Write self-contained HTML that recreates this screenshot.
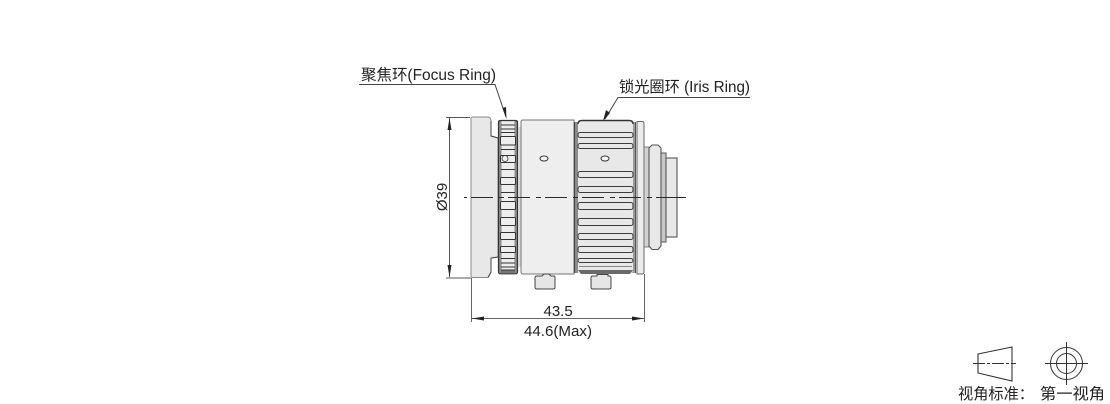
<!DOCTYPE html>
<html><head><meta charset="utf-8"><style>
html,body{margin:0;padding:0;background:#fff;width:1110px;height:404px;overflow:hidden}
svg{display:block}
text{font-family:"Liberation Sans","Noto Sans CJK SC",sans-serif;fill:#222}
</style></head><body>
<svg width="1110" height="404" viewBox="0 0 1110 404" xmlns="http://www.w3.org/2000/svg">
<!-- front flange -->
<path d="M473 117H487Q491 117 491 121V136L498 138V257L491 258V272L488 277.500H473Q471 277.500 471 275V119Q471 117 473 117Z" fill="#e8e8e8" stroke="#8a8a8a" stroke-width="1"/>
<path d="M491 121V136L498 138M498 257L491 258V272L488 277.500" fill="none" stroke="#444" stroke-width="1"/>
<!-- focus ring -->
<rect x="498" y="120" width="20" height="154" rx="2" fill="#ededed"/>
<rect x="498" y="121" width="3.500" height="152" fill="#8c8c8c"/>
<rect x="514.500" y="121" width="3.500" height="152" fill="#8c8c8c"/>
<g stroke="#333" stroke-width="1" fill="#ededed">
<rect x="500.500" y="136.500" width="15" height="8.500" rx="1"/>
<rect x="500.500" y="155.500" width="15" height="7" rx="1"/>
<rect x="500.500" y="177.500" width="15" height="7" rx="1"/>
<rect x="500.500" y="201.500" width="15" height="8" rx="1"/>
<rect x="500.500" y="217.500" width="15" height="8" rx="1"/>
<rect x="500.500" y="232.500" width="15" height="7" rx="1"/>
<rect x="500.500" y="246.500" width="15" height="6" rx="1"/>
<path d="M501 125H515M501 129H515M501 132.500H515M501 149.500H515M501 169.500H515M501 192.500H515M501 258.500H515M501 263H515M501 267H515M501 270H515" fill="none"/>
</g>
<path d="M498.500 122Q498.500 120.500 501 120.500H515Q517.500 120.500 517.500 122V272Q517.500 273.800 515 273.800H501Q498.500 273.800 498.500 272Z" fill="none" stroke="#333" stroke-width="1.200"/>
<rect x="501" y="270.500" width="14" height="3" fill="#777"/>
<circle cx="505" cy="158.500" r="3" fill="#f0f0f0" stroke="#333" stroke-width="0.800"/>
<rect x="518" y="127" width="2.500" height="140" fill="#d8d8d8"/>
<!-- body -->
<path d="M523 120H574V274H523Q521 274 521 272V122Q521 120 523 120Z" fill="#eeeeee" stroke="#777" stroke-width="1"/>
<ellipse cx="544" cy="158.500" rx="4" ry="2.500" fill="#f5f5f5" stroke="#333" stroke-width="1"/>
<!-- iris ring -->
<rect x="574" y="122" width="4" height="151" fill="#8c8c8c"/>
<path d="M574.500 122V273" stroke="#444" stroke-width="1"/>
<rect x="631" y="122" width="5" height="151" fill="#9a9a9a"/>
<path d="M635.500 122V273" stroke="#555" stroke-width="1"/>
<path d="M578 124Q578 120.500 582 120.500H629Q633 120.500 633 124V270Q633 273.800 629 273.800H582Q578 273.800 578 270Z" fill="#e8e8e8"/>
<path d="M578 124Q578 120.500 582 120.500H629Q633 120.500 633 124" fill="none" stroke="#333" stroke-width="1.400"/>
<g stroke="#3c3c3c" stroke-width="1.100" fill="#e8e8e8">
<rect x="578" y="132.500" width="55" height="5" rx="2"/>
<rect x="578" y="143.500" width="55" height="5" rx="2"/>
<rect x="578" y="171.500" width="55" height="6" rx="2"/>
<rect x="578" y="186.500" width="55" height="6" rx="2"/>
<rect x="578" y="202.500" width="55" height="7" rx="2"/>
<rect x="578" y="218.500" width="55" height="7" rx="2"/>
<rect x="578" y="233.500" width="55" height="6" rx="2"/>
<rect x="578" y="246.500" width="55" height="6" rx="2"/>
<rect x="578" y="258.500" width="55" height="4" rx="2"/>
<path d="M579 266.500H632" fill="none" stroke="#888"/>
</g>
<path d="M578 270H633L630 274H581Z" fill="#6a6a6a"/>
<ellipse cx="605" cy="158.500" rx="4" ry="2.500" fill="#f5f5f5" stroke="#333" stroke-width="1"/>
<!-- rear collar -->
<path d="M637 121.500H642Q644 121.500 644 123.500V272Q644 274 642 274H637Z" fill="#ececec" stroke="#666" stroke-width="1"/>
<!-- rear stepped barrel -->
<rect x="644" y="147" width="5" height="100" fill="#d2d2d2" stroke="#666" stroke-width="0.800"/>
<path d="M649 148L652 145H658L661 148V246L658 249.500H652L649 246Z" fill="#e8e8e8" stroke="#555" stroke-width="1.100"/>
<rect x="661" y="153" width="5" height="89" fill="#c8c8c8" stroke="#555" stroke-width="1"/>
<rect x="666" y="158" width="11" height="79" fill="#e8e8e8" stroke="#555" stroke-width="1.100"/>
<!-- set screws -->
<path d="M542 276L544 274H549L551 276H554Q555 276 555 278V287Q555 289 553 289H537Q535 289 535 287V278Q535 276 537 276Z" fill="#e6e6e6" stroke="#444" stroke-width="1"/>
<path d="M597 276V274.500H608V276H609Q611 276 611 278V287Q611 289 609 289H593Q591 289 591 287V278Q591 276 593 276Z" fill="#e6e6e6" stroke="#444" stroke-width="1"/>
<!-- centre line -->
<path d="M464 197.500H656" stroke="#2a2a2a" stroke-width="0.900" stroke-dasharray="22 6 5 4" stroke-dashoffset="30" fill="none"/>
<path d="M656 197.500H686" stroke="#2a2a2a" stroke-width="0.900" fill="none"/>
<!-- diameter dim -->
<g stroke="#555" stroke-width="1" fill="none">
<path d="M446 117.500H470M446 278H471M449.500 118V277"/>
</g>
<path d="M449.500 118L447.500 130H451.500Z M449.500 277L447.500 265H451.500Z" fill="#222"/>
<text transform="translate(447 197) rotate(-90)" font-size="15" text-anchor="middle">Ø39</text>
<!-- length dim -->
<g stroke="#666" stroke-width="1" fill="none">
<path d="M471.500 278V322M644.500 274V322M472 318.500H644"/>
</g>
<path d="M472 318.500L484 316.500V320.500Z M644 318.500L632 316.500V320.500Z" fill="#222"/>
<text x="543.500" y="316" font-size="15">43.5</text>
<text x="524" y="336" font-size="15" textLength="68" lengthAdjust="spacingAndGlyphs">44.6(Max)</text>
<!-- labels -->
<text x="361" y="80" font-size="15.500" textLength="135" lengthAdjust="spacingAndGlyphs">聚焦环(Focus Ring)</text>
<path d="M359 84.500H495L506 117" stroke="#444" stroke-width="1" fill="none"/>
<path d="M506.500 119L502.500 108L506 107Z" fill="#222"/>
<text x="619" y="92" font-size="15.500" textLength="131" lengthAdjust="spacingAndGlyphs">锁光圈环 (Iris Ring)</text>
<path d="M750 97.500H618L605 119" stroke="#444" stroke-width="1" fill="none"/>
<path d="M603 121L606 110L610 113Z" fill="#222"/>
<!-- projection symbol -->
<path d="M978 354L1012 347V381L978 373Z" fill="none" stroke="#333" stroke-width="1.100"/>
<path d="M973 363.500H1016" stroke="#333" stroke-width="0.900" stroke-dasharray="12 2 3 2" fill="none"/>
<g fill="none" stroke="#333" stroke-width="1">
<circle cx="1066.500" cy="363.500" r="16"/>
<circle cx="1066.500" cy="363.500" r="10"/>
<path d="M1045 363.500H1088M1066.500 342V385"/>
</g>
<text x="958" y="399" font-size="15.200">视角标准：</text>
<text x="1040" y="399" font-size="15.200" textLength="65" lengthAdjust="spacingAndGlyphs">第一视角</text>
</svg>
</body></html>
